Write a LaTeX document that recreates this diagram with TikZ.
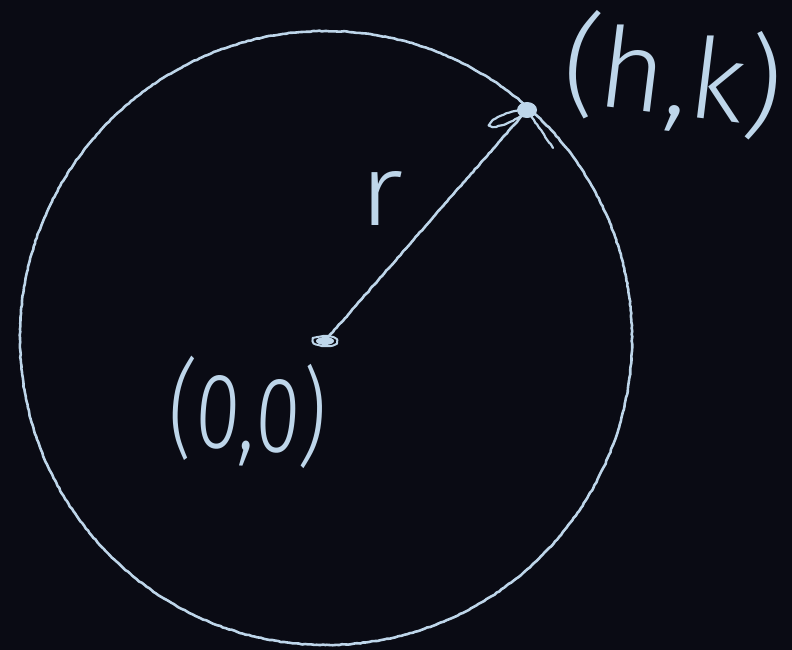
\documentclass[tikz,border=0pt]{standalone}
\usepackage{fontspec}
\usepackage{graphicx}
\newfontfamily\hand{Fira Sans Light}
\usetikzlibrary{decorations.pathmorphing}
\definecolor{bg}{RGB}{10,11,20}
\definecolor{chalk}{RGB}{190,214,234}
\tikzset{
  chalkline/.style={draw=chalk, line width=2.6pt, line cap=round, line join=round,
    decorate, decoration={random steps, segment length=3pt, amplitude=0.4pt}},
  handtext/.style={text=chalk, inner sep=0pt, font=\hand\fontsize{72}{72}\selectfont},
}
\begin{document}
\begin{tikzpicture}[x=1pt,y=-1pt]
  \fill[bg] (0,0) rectangle (792,650);
  \useasboundingbox (0,0) rectangle (792,650);
  % circle
  \coordinate (C) at (326,338);
  \draw[chalkline] (C) ellipse [x radius=306, y radius=307];
  % centre and point
  \coordinate (O) at (325,341);
  \coordinate (P) at (527,110);
  \draw[chalkline] (O) -- (P);
  % scribbled dots
  \fill[chalk] (O) ellipse [x radius=9, y radius=4];
  \draw[chalkline, line width=2pt] (O) ellipse [x radius=12, y radius=5];
  \fill[chalk] (P) ellipse [x radius=10, y radius=8];
  \draw[chalkline, line width=2.2pt] (P) .. controls (508,110) and (488,120) .. (490,126)
        .. controls (495,129) and (516,122) .. (P);
  \coordinate (Q) at (553,148);
  \draw[chalkline, line width=2.2pt] (P) -- (Q);
  % labels
  \node[handtext, rotate=-7] (hk) at (673,76) {\resizebox{220pt}{94pt}{(h,k)}};
  \node[handtext, rotate=-4] (oo) at (248,413) {\resizebox{158pt}{90pt}{(0,0)}};
  \node[handtext] (r) at (381,198) {\resizebox{44pt}{54pt}{r}};
\end{tikzpicture}
\end{document}
